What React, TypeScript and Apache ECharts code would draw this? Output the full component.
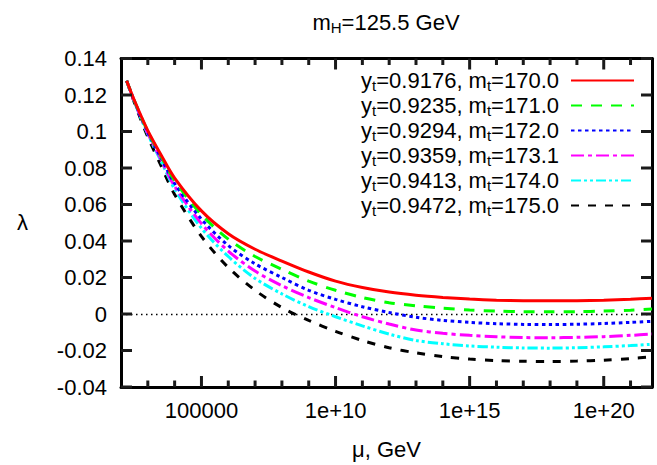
import React, { useEffect, useRef } from 'react';
import * as echarts from 'echarts';

// log10(mu / GeV)
const muLog = [2.21, 2.5, 3, 3.5, 4, 5, 6, 7, 8, 9, 10, 11, 12, 13, 14, 15, 16, 17, 18, 19, 20, 21, 21.8];

const ytValues = ['0.9176', '0.9235', '0.9294', '0.9359', '0.9413', '0.9472'];
const mtValues = ['170.0', '171.0', '172.0', '173.1', '174.0', '175.0'];

const lambda170 = [0.1278, 0.1170, 0.1005, 0.0870, 0.0745, 0.0565, 0.0440, 0.0355, 0.0290, 0.0230, 0.0180, 0.0145, 0.0120, 0.0103, 0.0091, 0.0082, 0.0076, 0.0073, 0.0072, 0.0073, 0.0076, 0.0081, 0.0086];
const lambda171 = [0.1278, 0.1168, 0.1000, 0.0862, 0.0730, 0.0545, 0.0410, 0.0315, 0.0245, 0.0180, 0.0130, 0.0090, 0.0062, 0.0045, 0.0032, 0.0022, 0.0016, 0.0013, 0.0012, 0.0013, 0.0016, 0.0021, 0.0027];
const lambda172 = [0.1278, 0.1166, 0.0995, 0.0853, 0.0715, 0.0520, 0.0375, 0.0275, 0.0200, 0.0130, 0.0080, 0.0040, 0.0008, -0.0018, -0.0035, -0.0046, -0.0053, -0.0057, -0.0058, -0.0056, -0.0052, -0.0046, -0.0040];
const lambda1731 = [0.1278, 0.1164, 0.0990, 0.0845, 0.0700, 0.0495, 0.0345, 0.0235, 0.0155, 0.0090, 0.0035, -0.0015, -0.0055, -0.0088, -0.0106, -0.0117, -0.0125, -0.0129, -0.0130, -0.0128, -0.0124, -0.0117, -0.0110];
const lambda174 = [0.1278, 0.1162, 0.0985, 0.0835, 0.0685, 0.0470, 0.0315, 0.0195, 0.0110, 0.0040, -0.0015, -0.0065, -0.0110, -0.0145, -0.0163, -0.0175, -0.0182, -0.0186, -0.0187, -0.0185, -0.0180, -0.0173, -0.0166];
const lambda175 = [0.1278, 0.1158, 0.0970, 0.0810, 0.0655, 0.0425, 0.0255, 0.0130, 0.0035, -0.0035, -0.0095, -0.0145, -0.0185, -0.0213, -0.0233, -0.0247, -0.0255, -0.0259, -0.0260, -0.0258, -0.0253, -0.0244, -0.0235];

const seriesValues = [lambda170, lambda171, lambda172, lambda1731, lambda174, lambda175];

const xMajorTicks = [5, 10, 15, 20];
const xMinorTicks = [3, 4, 6, 7, 8, 9, 11, 12, 13, 14, 16, 17, 18, 19, 21];
const xTickLabels = ['100000', '1e+10', '1e+15', '1e+20'];
const yTickValues = [-0.04, -0.02, 0, 0.02, 0.04, 0.06, 0.08, 0.1, 0.12, 0.14];

const colors = ['#ff0000', '#00ff00', '#0000ff', '#ff00ff', '#00ffff', '#000000'];
const dashes: (string | number[])[] = ['solid', [11, 9], [3.5, 3.5], [13, 4, 4, 4], [10, 3, 3, 3, 3, 3], [8, 9]];

const FONT = 'Liberation Sans, Arial, Helvetica, sans-serif';
const FS = 22;
const TICK_COLOR = '#1a1a1a';

export default function App() {
  const ref = useRef<HTMLDivElement>(null);
  useEffect(() => {
    if (!ref.current) return;
    const chart = echarts.init(ref.current, undefined, { renderer: 'svg' });
    const names = ytValues.map((yt, i) => `yt=${yt}, mt=${mtValues[i]}`);
    const xMin = 2, xMax = 21.8;
    const yMin = -0.04, yMax = 0.14;
    const axisLineStyle = { color: '#000', width: 3 };
    const xTickData = [
      ...xMajorTicks.map((v) => [v, 1]),
      ...xMinorTicks.map((v) => [v, 0]),
    ];
    const yTickData = yTickValues.map((v) => [xMin, v]);
    const MAJOR = 11, MINOR = 6.5, TW = 3;

    const tickSeries = (name: string, data: number[][], side: 'bottom' | 'top' | 'left' | 'right') => ({
      type: 'custom', name, coordinateSystem: 'cartesian2d',
      xAxisIndex: 0, yAxisIndex: 0, clip: false, silent: true, z: 20,
      encode: { x: 0, y: 1 },
      data,
      renderItem: (_p: any, api: any) => {
        if (side === 'bottom' || side === 'top') {
          const v = api.value(0);
          const len = api.value(1) === 1 ? MAJOR : MINOR;
          const p = api.coord([v, side === 'bottom' ? yMin : yMax]);
          return {
            type: 'rect',
            shape: { x: p[0] - TW / 2, y: side === 'bottom' ? p[1] - len : p[1], width: TW, height: len },
            style: { fill: TICK_COLOR },
          };
        }
        const v = api.value(1);
        const p = api.coord([side === 'left' ? xMin : xMax, v]);
        return {
          type: 'rect',
          shape: { x: side === 'left' ? p[0] : p[0] - MAJOR, y: p[1] - TW / 2, width: MAJOR, height: TW },
          style: { fill: TICK_COLOR },
        };
      },
    });

    const option: any = {
      animation: false,
      backgroundColor: '#fff',
      textStyle: { fontFamily: FONT },
      grid: { left: 121, right: 5, top: 58.5, bottom: 75.5, containLabel: false },
      graphic: [
        {
          type: 'text', x: 386, y: 22,
          style: {
            text: '{a|m}{b|H}{a|=125.5 GeV}',
            align: 'center', verticalAlign: 'middle',
            rich: {
              a: { fontSize: FS, fontFamily: FONT, fill: '#000', lineHeight: 26 },
              b: { fontSize: 15, fontFamily: FONT, fill: '#000', lineHeight: 16, padding: [10, 0, 0, 0] },
            },
          },
        },
      ],
      legend: {
        orient: 'vertical', right: 22, top: 68, align: 'right', padding: 0,
        itemWidth: 63, itemHeight: 10, itemGap: 0,
        itemStyle: { opacity: 0 },
        data: names,
        formatter: (n: string) => {
          const i = names.indexOf(n);
          return `{a|y}{b|t}{a|=${ytValues[i]}, m}{b|t}{a|=${mtValues[i]}}`;
        },
        textStyle: {
          padding: [0, 7, 0, 0],
          rich: {
            a: { fontSize: FS, fontFamily: FONT, color: '#000', lineHeight: 25 },
            b: { fontSize: 15, fontFamily: FONT, color: '#000', lineHeight: 15, padding: [10, 0, 0, 0] },
          },
        },
      },
      xAxis: [
        {
          type: 'value', min: xMin, max: xMax, position: 'bottom',
          splitLine: { show: false },
          name: 'μ, GeV', nameLocation: 'middle', nameGap: 51,
          nameTextStyle: { fontSize: FS, fontFamily: FONT, color: '#000' },
          axisLine: { show: true, onZero: false, lineStyle: axisLineStyle },
          axisTick: { show: false },
          axisLabel: {
            show: true, customValues: xMajorTicks, margin: 12, fontSize: FS, fontFamily: FONT, color: '#000',
            formatter: (v: number) => { const i = xMajorTicks.indexOf(Math.round(v)); return i >= 0 ? xTickLabels[i] : ''; },
          },
        },
        {
          type: 'value', min: xMin, max: xMax, position: 'top',
          splitLine: { show: false },
          axisLine: { show: true, onZero: false, lineStyle: axisLineStyle },
          axisTick: { show: false },
          axisLabel: { show: false },
        },
      ],
      yAxis: [
        {
          type: 'value', min: yMin, max: yMax, interval: 0.02, position: 'left',
          name: 'λ', nameLocation: 'middle', nameRotate: 0, nameGap: 93,
          nameTextStyle: { fontSize: FS, fontFamily: FONT, color: '#000' },
          splitLine: { show: false },
          axisLine: { show: true, onZero: false, lineStyle: axisLineStyle },
          axisTick: { show: false },
          axisLabel: {
            show: true, margin: 14, fontSize: FS, fontFamily: FONT, color: '#000',
            formatter: (v: number) => String(Math.round(v * 100) / 100),
          },
        },
        {
          type: 'value', min: yMin, max: yMax, interval: 0.02, position: 'right',
          splitLine: { show: false },
          axisLine: { show: true, onZero: false, lineStyle: axisLineStyle },
          axisTick: { show: false },
          axisLabel: { show: false },
        },
      ],
      series: [
        ...seriesValues.map((vals, i) => ({
          name: names[i],
          type: 'line',
          xAxisIndex: 0, yAxisIndex: 0,
          showSymbol: false, symbol: 'none',
          smooth: 0.3,
          color: colors[i],
          lineStyle: { color: colors[i], width: 3, type: dashes[i] },
          data: muLog.map((x, k) => [x, vals[k]]),
          z: 3 + (5 - i),
          markLine: i === 0 ? {
            silent: true, symbol: 'none', label: { show: false },
            lineStyle: { color: '#000', width: 1.3, type: [1.5, 3.5] },
            data: [{ yAxis: 0 }],
            z: 1,
          } : undefined,
        })),
        tickSeries('xticksBottom', xTickData, 'bottom'),
        tickSeries('xticksTop', xTickData, 'top'),
        tickSeries('yticksLeft', yTickData, 'left'),
        tickSeries('yticksRight', yTickData, 'right'),
      ],
    };
    chart.setOption(option);
    return () => chart.dispose();
  }, []);
  return <div ref={ref} style={{ position: 'fixed', left: 0, top: 0, width: 657, height: 465 }} />;
}
